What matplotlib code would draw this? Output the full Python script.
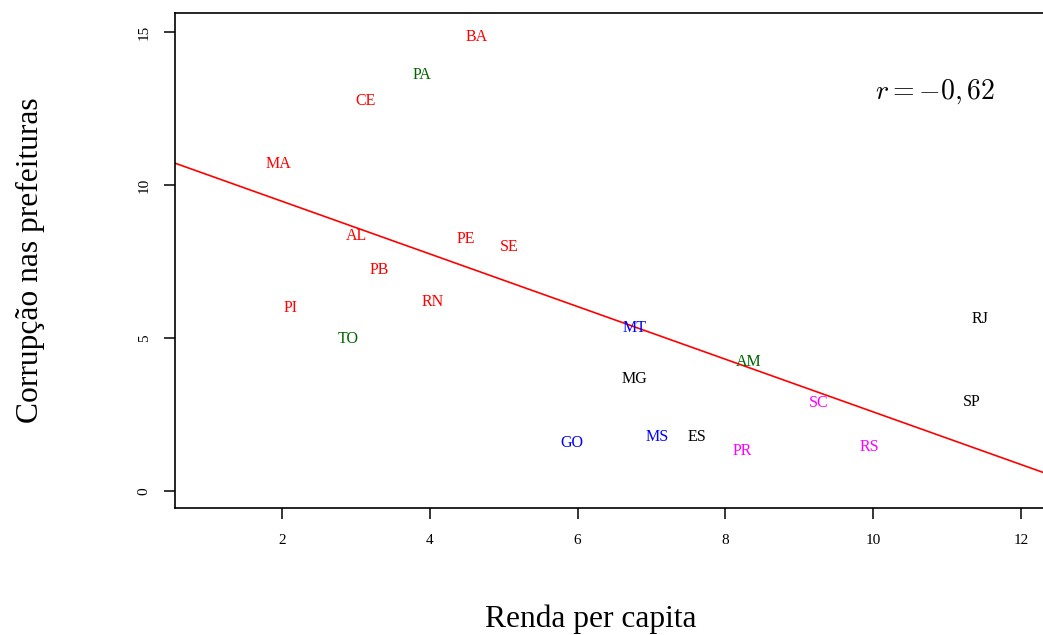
import numpy as np
import matplotlib
matplotlib.use('Agg')
import matplotlib.pyplot as plt

## state labels, income per capita (x) and corruption index (y)
states = ['BA', 'PA', 'CE', 'MA', 'AL', 'PE', 'SE', 'PB', 'RN', 'PI', 'TO',
          'MT', 'AM', 'MG', 'SC', 'SP', 'RJ', 'GO', 'MS', 'ES', 'PR', 'RS']
renda = [4.63, 3.89, 3.13, 1.95, 3.01, 4.49, 5.08, 3.31, 4.04, 2.11, 2.89,
         6.77, 8.32, 6.77, 9.26, 11.34, 11.45, 5.92, 7.08, 7.62, 8.23, 9.95]
corrupcao = [14.84, 13.59, 12.75, 10.69, 8.33, 8.24, 7.97, 7.22, 6.18, 5.98, 4.97,
             5.33, 4.22, 3.66, 2.88, 2.91, 5.62, 1.57, 1.76, 1.76, 1.31, 1.44]
regiao = ['NE', 'N', 'NE', 'NE', 'NE', 'NE', 'NE', 'NE', 'NE', 'NE', 'N',
          'CO', 'N', 'SE', 'S', 'SE', 'SE', 'CO', 'CO', 'SE', 'S', 'S']
cores = {'NE': '#FF0000', 'N': '#006400', 'CO': '#0000FF', 'SE': '#000000', 'S': '#FF00FF'}

x_ticks = [2, 4, 6, 8, 10, 12]
y_ticks = [0, 5, 10, 15]

plt.rcParams['font.family'] = ['Liberation Serif', 'DejaVu Serif']
plt.rcParams['mathtext.fontset'] = 'cm'

fig = plt.figure(figsize=(10.43, 6.35), dpi=100)
ax = fig.add_axes([0.1678, 0.2, 0.8372, 0.7795])

for s, xv, yv, rg in zip(states, renda, corrupcao, regiao):
    ax.text(xv, yv, s, color=cores[rg], fontsize=11.5, ha='center', va='center')

## least squares line, like abline(lm(y ~ x)) in R
b, a = np.polyfit(renda, corrupcao, 1)
xl = np.array([-1, 14])
ax.plot(xl, a + b * xl, color='#FF0000', linewidth=1.2)

ax.text(10.84, 13.04, r'$r = -0,62$', fontsize=20, ha='center', va='center')

ax.set_xlim(0.552, 12.368)
ax.set_ylim(-0.556, 15.62)
ax.set_xticks(x_ticks)
ax.set_yticks(y_ticks)
ax.set_xticklabels([str(t) for t in x_ticks], fontsize=11)
ax.set_yticklabels([str(t) for t in y_ticks], fontsize=11, rotation=90, va='center')
ax.tick_params(axis='x', length=8, width=1.1, pad=10.5)
ax.tick_params(axis='y', length=8, width=1.1, pad=9.5)
for sp in ax.spines.values():
    sp.set_linewidth(1.2)

fig.text(0.566, 0.012, 'Renda per capita', fontsize=22.7, ha='center', va='baseline')
fig.text(0.029, 0.59, 'Corrupção nas prefeituras', fontsize=22.7, rotation=90,
         ha='center', va='center')

plt.savefig('out.png', dpi=100)
